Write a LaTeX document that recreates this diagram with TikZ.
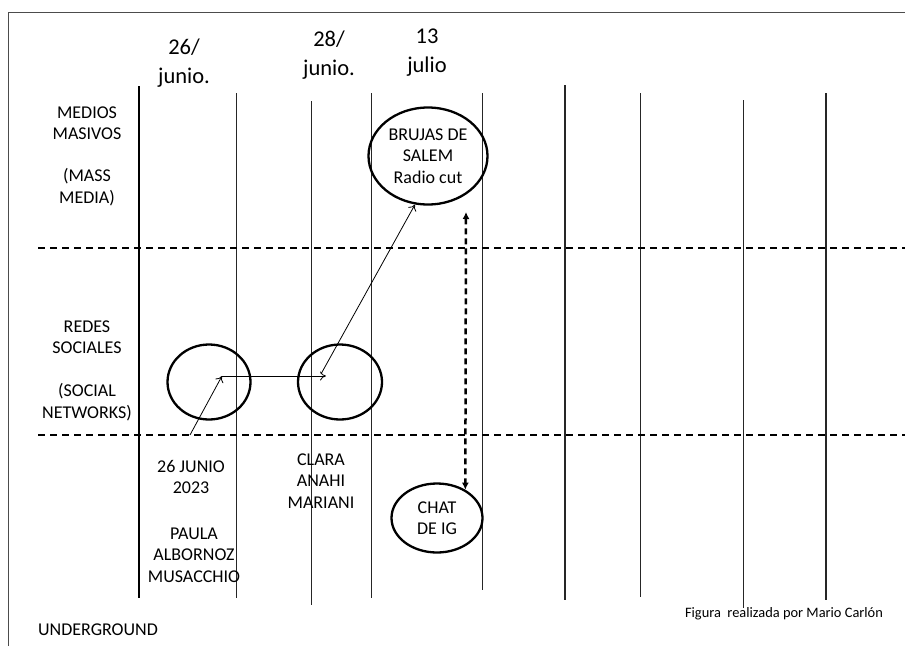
\documentclass[tikz,border=0pt]{standalone}
\usepackage{fontspec}
\setmainfont{Carlito}
\usetikzlibrary{arrows.meta,shapes.geometric}
\begin{document}
\begin{tikzpicture}[x=1pt,y=-1pt,
 lbl/.style={font=\fontsize{18}{21.5}\selectfont, align=center, inner sep=0pt},
 datelbl/.style={font=\fontsize{22.5}{29}\selectfont, align=center, inner sep=0pt},
 small/.style={font=\fontsize{14.4}{17}\selectfont, inner sep=0pt},
 vline/.style={line width=0.9pt, black!85},
 thickv/.style={line width=2pt, black},
 frame/.style={line width=1pt, black!70},
 sep/.style={line width=2.8pt, dash pattern=on 7pt off 5pt},
 circ/.style={ellipse, draw, line width=2.3pt, inner sep=0pt},
 arr/.style={-{To[length=6pt,width=9pt]}, line width=0.8pt},
 darr/.style={{Latex[length=7pt,width=7pt]}-{Latex[length=7pt,width=7pt]}, line width=2.5pt, dash pattern=on 6pt off 4pt}]

\useasboundingbox (0,0) rectangle (905,646);

% frame
\draw[frame] (8,646) -- (8,12) -- (905,12);

% vertical lines
\draw[thickv] (139,86) -- (139,598);
\draw[vline] (236,93) -- (236,598);
\draw[vline] (311,101) -- (311,605);
\draw[vline] (371,93) -- (371,598);
\draw[vline] (482,93) -- (482,590);
\draw[vline, line width=1.2pt] (565,85) -- (565,600);
\draw[vline] (640,93) -- (640,597);
\draw[vline] (743,100) -- (743,608);
\draw[vline, line width=1.1pt] (826,93) -- (826,600);

% separators
\draw[sep] (38,248) -- (905,248);
\draw[sep] (38,435) -- (905,435);

% dates
\node[datelbl] (d26) at (184,63) {26/\\junio.};
\node[datelbl] (d28) at (329,55) {28/\\junio.};
\node[datelbl] (d13) at (427,53) {13\\julio};

% left labels
\node[lbl] (mm) at (87,123) {MEDIOS\\MASIVOS};
\node[lbl] (mme) at (87,187) {(MASS\\MEDIA)};
\node[lbl] (rs) at (87,337) {REDES\\SOCIALES};
\node[lbl] (sn) at (87,402) {(SOCIAL\\NETWORKS)};
\node[lbl] (ug) at (98,630) {UNDERGROUND};

% bottom labels
\node[lbl] (j26) at (191,477) {26 JUNIO\\2023};
\node[lbl] (paula) at (194,555) {PAULA\\ALBORNOZ\\MUSACCHIO};
\node[lbl] (clara) at (321,481) {CLARA\\ANAHI\\MARIANI};
\node[small] (fig) at (784,614) {Figura~ realizada por Mario Carlón};

% circles
\node[circ, minimum width=83, minimum height=75] (c1) at (209,382) {};
\node[circ, minimum width=84, minimum height=75] (c2) at (340,382) {};
\node[circ, lbl, minimum width=119, minimum height=97] (brujas) at (428,156) {BRUJAS DE\\SALEM\\Radio cut};
\node[circ, lbl, minimum width=91, minimum height=69] (chat) at (437,518) {CHAT\\DE IG};

% arrows
\coordinate (a0) at (190,435);
\coordinate (a1) at (222,376);
\coordinate (a2) at (326,376);
\coordinate (a3) at (321,374);
\coordinate (d1) at (466,212);
\draw[arr] (a0) -- (a1);
\draw[arr] (a1) -- (a2);
\draw[arr] (a3) -- (brujas.-105);
\draw[darr] (d1) -- (chat.45);
\end{tikzpicture}
\end{document}
